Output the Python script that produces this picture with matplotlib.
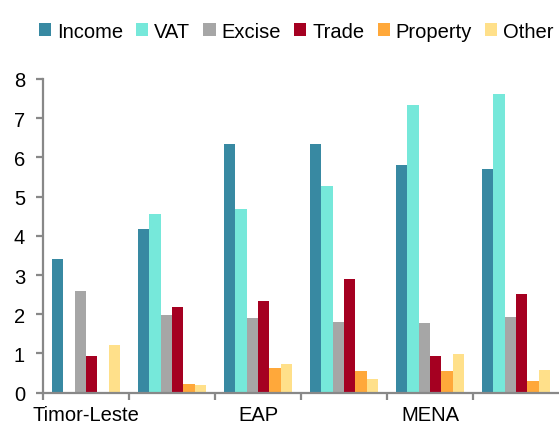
import numpy as np
import matplotlib
matplotlib.use("Agg")
import matplotlib.pyplot as plt

plt.rcParams['font.family'] = ['Liberation Sans', 'DejaVu Sans']

groups = ["Timor-Leste", "", "EAP", "", "MENA", ""]
series = ["Income", "VAT", "Excise", "Trade", "Property", "Other"]
colors = ["#3889A2", "#76E8DA", "#A6A6A6", "#A50021", "#FFA83A", "#FFE08A"]

income   = [3.41, 4.17, 6.34, 6.34, 5.81, 5.70]
vat      = [0.00, 4.56, 4.67, 5.27, 7.33, 7.61]
excise   = [2.59, 1.97, 1.90, 1.80, 1.78, 1.93]
trade    = [0.94, 2.19, 2.34, 2.91, 0.94, 2.52]
prop     = [0.00, 0.22, 0.62, 0.55, 0.55, 0.31]
other    = [1.21, 0.19, 0.73, 0.36, 0.98, 0.57]
values = [income, vat, excise, trade, prop, other]

fig = plt.figure(figsize=(5.59, 4.27), dpi=100)
ax = fig.add_axes([0.077, 0.078, 0.923, 0.735])

n = len(series)
width = 0.132
x = np.arange(len(groups)) + 0.5
for k, (name, vals, c) in enumerate(zip(series, values, colors)):
    offs = (k - (n - 1) / 2) * width
    ax.bar(x + offs, vals, width=width, color=c, label=name, linewidth=0)

ax.set_xlim(0, len(groups))
ax.set_ylim(0, 8)
ax.set_yticks(range(0, 9))
ax.set_xticks(x)
ax.set_xticklabels(groups)
ax.set_xticks(np.arange(len(groups)), minor=True)

for s in ["top", "right"]:
    ax.spines[s].set_visible(False)
for s in ["left", "bottom"]:
    ax.spines[s].set_color("#888888")
    ax.spines[s].set_linewidth(1.6)

ax.tick_params(axis="x", which="major", length=0, labelsize=14.5, pad=9)
ax.tick_params(axis="x", which="minor", length=5, width=1.6, color="#888888", direction="out")
ax.tick_params(axis="y", length=5, width=1.6, color="#888888", labelsize=14.5, pad=8)

fig.legend(loc="center", bbox_to_anchor=(0.53, 0.925), ncol=6, frameon=False,
           fontsize=14.5, handlelength=0.6, handleheight=0.6, handletextpad=0.3,
           columnspacing=0.65, borderaxespad=0)

fig.savefig("out.png", dpi=100)
